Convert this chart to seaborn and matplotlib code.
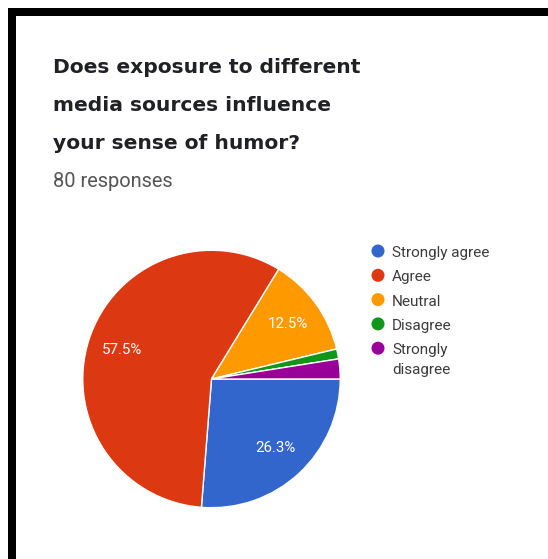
from decimal import Decimal, ROUND_HALF_UP
import matplotlib
matplotlib.use("Agg")
import matplotlib.pyplot as plt
from matplotlib.patches import Rectangle
import seaborn as sns

# -----------------------------
# data (80 responses)
# -----------------------------
title_lines = ["Does exposure to different", "media sources influence", "your sense of humor?"]
subtitle = "80 responses"
categories = ["Strongly agree", "Agree", "Neutral", "Disagree", "Strongly\ndisagree"]
counts = [21, 46, 10, 1, 2]
colors = ["#3366cc", "#dc3912", "#ff9900", "#109618", "#990099"]

sns.set_theme(style="white")
plt.rcParams['font.family'] = ['Roboto', 'DejaVu Sans']

W, H = 548, 559
fig = plt.figure(figsize=(W / 100, H / 100), dpi=100)
fig.patch.set_facecolor("white")

# black frame (top + left) like the screenshot
fig.patches.append(Rectangle((8 / W, 1 - 16 / H), 1, 8 / H, transform=fig.transFigure,
                             facecolor="black", edgecolor="none", zorder=5))
fig.patches.append(Rectangle((8 / W, 0), 8 / W, 1 - 8 / H, transform=fig.transFigure,
                             facecolor="black", edgecolor="none", zorder=5))

total = sum(counts)


def fmt_pct(p):
    # google forms style: one decimal, half-up, hide small slices
    if p < 5:
        return ""
    n = round(p * total / 100)
    val = (Decimal(n * 100) / Decimal(total)).quantize(Decimal("0.1"), rounding=ROUND_HALF_UP)
    return f"{val}%"


# -----------------------------
# pie
# -----------------------------
ax = fig.add_axes([81 / W, 1 - 509 / H, 261 / W, 260 / H])
wedges, texts, autotexts = ax.pie(
    counts,
    colors=colors,
    startangle=0,
    counterclock=False,
    autopct=fmt_pct,
    pctdistance=0.73,
    wedgeprops={"edgecolor": "white", "linewidth": 1},
    textprops={"color": "white", "fontsize": 10.8},
)
ax.set_xlim(-1.01, 1.01)
ax.set_ylim(-1.01, 1.01)

# -----------------------------
# texts + legend in pixel-space overlay
# -----------------------------
ov = fig.add_axes([0, 0, 1, 1], zorder=3)
ov.set_xlim(0, W)
ov.set_ylim(H, 0)
ov.axis("off")

for i, line in enumerate(title_lines):
    ov.text(53, 73 + 38 * i, line, fontsize=14.55, fontweight="bold", color="#202124",
            va="baseline", ha="left", family=["DejaVu Sans"])
ov.text(53, 187, subtitle, fontsize=14.4, color="#555555", va="baseline", ha="left")

y = 251
for lab, col in zip(categories, colors):
    ov.scatter([378], [y], s=88, color=col, edgecolor="none")
    for k, part in enumerate(lab.split("\n")):
        ov.text(392, y + 6 + 20 * k, part, fontsize=11, color="#3c3c3c",
                va="baseline", ha="left")
    y += 24.3 + 20 * lab.count("\n")

fig.savefig("out.png", dpi=100)
plt.close(fig)
